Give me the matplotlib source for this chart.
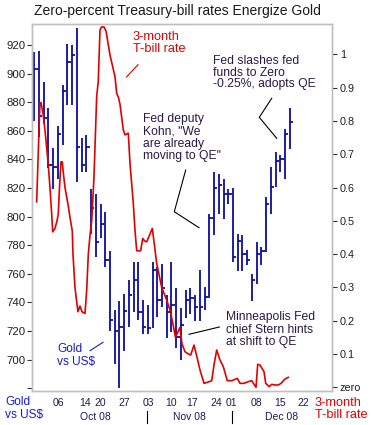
import matplotlib
matplotlib.use('Agg')
import matplotlib.pyplot as plt
import matplotlib.transforms as mtransforms
from matplotlib.lines import Line2D

plt.rcParams['font.family'] = ['Liberation Sans', 'DejaVu Sans']

# Gold vs US$ : daily high / low / close (one bar per trading day, from Sep 29 2008)
gold_high = [915, 916, 894, 876, 848, 863, 892, 921, 920, 932,
             855, 857, 819, 816, 809, 803, 776, 735, 741, 746,
             756, 768, 768, 742, 738, 768, 765, 767, 745, 768,
             750, 736, 749, 750, 745, 763, 751, 802, 831, 830,
             826, 819, 820, 788, 787, 777, 760, 782, 779, 814,
             835, 845, 843, 861, 876]
gold_low = [867, 856, 865, 834, 819, 826, 850, 878, 878, 824,
            831, 831, 788, 772, 785, 765, 720, 697, 680, 706,
            723, 733, 728, 718, 718, 722, 730, 737, 715, 719,
            708, 700, 729, 732, 727, 727, 735, 743, 787, 802,
            798, 809, 768, 762, 762, 766, 741, 753, 766, 775,
            802, 821, 831, 826, 847]
gold_close = [903, 870, 869, 836, 835, 858, 888, 908, 913, 849,
              836, 849, 806, 782, 795, 770, 728, 720, 723, 734,
              745, 756, 733, 723, 722, 763, 742, 750, 733, 738,
              716, 724, 742, 743, 737, 737, 744, 799, 820, 822,
              816, 816, 772, 783, 774, 770, 756, 774, 776, 809,
              821, 839, 840, 858, 866]

# 3-month T-bill rate (%), position in trading-day units
tbill_day = [0.5, 0.72, 1.06, 1.21, 1.42, 1.84, 2.26, 2.9, 3.32, 3.68,
             3.89, 4.38, 4.8, 5.07, 5.33, 5.64, 5.92, 6.07, 6.49, 7.12,
             7.55, 8.03, 8.18, 8.6, 8.96, 9.24, 9.66, 10.08, 10.72, 11.08,
             11.42, 11.78, 12.14, 12.62, 13.19, 13.53, 13.89, 14.21, 14.74, 15.16,
             16.0, 17.06, 17.42, 17.8, 18.12, 18.82, 19.18, 19.87, 20.23, 20.93,
             21.29, 21.65, 22.49, 22.92, 23.3, 23.76, 24.95, 25.88, 26.93, 27.99,
             28.69, 29.32, 29.85, 30.8, 31.23, 31.86, 32.56, 33.07, 33.76, 34.46,
             35.03, 35.88, 36.58, 37.51, 38.05, 38.56, 39.26, 39.96, 40.8, 41.73,
             42.43, 42.92, 43.49, 44.33, 45.24, 45.96, 46.87, 47.23, 47.72, 48.56,
             48.92, 49.68, 50.19, 50.89, 51.59, 52.16, 53.01, 53.7]
tbill_rate = [0.557, 0.652, 0.80, 0.853, 0.855, 0.823, 0.773, 0.677, 0.60, 0.52,
              0.467, 0.477, 0.50, 0.52, 0.60, 0.677, 0.677, 0.653, 0.60, 0.55,
              0.51, 0.47, 0.40, 0.30, 0.257, 0.227, 0.244, 0.227, 0.222, 0.292,
              0.40, 0.457, 0.50, 0.632, 0.873, 0.92, 1.073, 1.082, 1.082, 1.07,
              0.998, 0.933, 0.883, 0.87, 0.85, 0.773, 0.758, 0.763, 0.673, 0.553,
              0.472, 0.41, 0.41, 0.447, 0.44, 0.437, 0.477, 0.372, 0.30, 0.262,
              0.232, 0.19, 0.15, 0.18, 0.13, 0.107, 0.10, 0.097, 0.127, 0.087,
              0.052, 0.012, 0.015, 0.02, 0.072, 0.112, 0.082, 0.062, 0.02, 0.02,
              0.024, 0.027, 0.012, 0.012, 0.017, 0.02, 0.0, 0.069, 0.067, 0.047,
              0.012, 0.002, 0.009, 0.007, 0.007, 0.012, 0.025, 0.03]

day_ticks = [5.0, 10.7, 13.9, 19.0, 24.1, 29.0, 33.3, 38.4, 41.7, 47.0, 51.9, 56.9]
day_labels = ['06', '14', '20', '27', '03', '10', '17', '24', '01', '08', '15', '22']
month_pos = [12.85, 32.7, 52.3]
month_labels = ['Oct 08', 'Nov 08', 'Dec 08']
month_breaks = [23.9, 41.9]

gold_ticks = [680, 700, 720, 740, 760, 780, 800, 820, 840, 860, 880, 900, 920]
rate_ticks = [0, 0.1, 0.2, 0.3, 0.4, 0.5, 0.6, 0.7, 0.8, 0.9, 1.0]
rate_labels = ['zero', '0.1', '0.2', '0.3', '0.4', '0.5', '0.6', '0.7', '0.8', '0.9', '1']

BLUE = '#0c0c9e'
RED = '#e00000'
NAVY_TXT = '#1c1c58'
NOTE = '#2a1a45'
FRAME = '#c0c0c0'

W, H = 373, 425
fig = plt.figure(figsize=(W / 100, H / 100), dpi=100)
fig.patch.set_facecolor('white')


def fx(x):
    return x / W


def fy(y):
    return 1 - y / H


ax = fig.add_axes([fx(32.3), fy(391), (332.3 - 32.3) / W, (391 - 23.5) / H])
days = list(range(len(gold_close)))
ax.vlines(days, gold_low, gold_high, color=BLUE, lw=1.3)
ax.hlines(gold_close, days, [d + 0.7 for d in days], color=BLUE, lw=1.3)
ax.set_xlim(-0.42, 63.0)
ax.set_ylim(678.1, 935.0)
ax.set_yticks(gold_ticks)
ax.set_yticklabels([''] + [str(v) for v in gold_ticks[1:]])
ax.set_xticks(day_ticks)
ax.set_xticklabels(day_labels)
ax.tick_params(axis='y', direction='out', length=3.5, width=0.8, color='#333333',
               labelsize=8.2, pad=1, labelcolor='#202020')
ax.tick_params(axis='x', length=0, pad=5, labelsize=7.5, labelcolor=NAVY_TXT)

ax2 = ax.twinx()
ax2.plot(tbill_day, tbill_rate, color=RED, lw=1.2)
ax2.set_ylim(-0.011, 1.0925)
ax2.set_yticks(rate_ticks)
ax2.set_yticklabels(rate_labels)
ax2.tick_params(axis='y', direction='out', length=3.5, width=0.8, color='#333333',
                labelsize=7.8, pad=2, labelcolor='#202020')
for a in (ax, ax2):
    for s in a.spines.values():
        s.set_color(FRAME)
        s.set_linewidth(1.0)

# month labels and separators under the day ticks
tr = mtransforms.blended_transform_factory(ax.transData, fig.transFigure)
for p, lab in zip(month_pos, month_labels):
    fig.text(p, fy(416.5), lab, transform=tr, ha='center', va='center',
             fontsize=7.5, color=NAVY_TXT)
for b in month_breaks:
    fig.add_artist(Line2D([b, b], [fy(411), fy(423)], transform=tr, color='black', lw=0.8))

# title
fig.text(fx(34), fy(15), 'Zero-percent Treasury-bill rates Energize Gold',
         ha='left', va='baseline', fontsize=10, color='#1a1a1a')

# axis captions at the bottom
fig.text(fx(5), fy(408.5), 'Gold\nvs US$', ha='left', va='center', fontsize=8.6,
         color='#1a1ad0', linespacing=1.05)
fig.text(fx(315), fy(409.5), '3-month\nT-bill rate', ha='left', va='center',
         fontsize=9.2, color=RED, linespacing=1.0)

# labels inside the chart
fig.text(fx(57.3), fy(355.5), 'Gold\nvs US$', ha='left', va='center', fontsize=8.6,
         color='#1a1ad0', linespacing=1.05)
fig.add_artist(Line2D([fx(90), fx(103)], [fy(350.7), fy(342.3)], color='#1a1ad0', lw=0.8))

fig.text(fx(132.7), fy(43.5), '3-month\nT-bill rate', ha='left', va='center',
         fontsize=9.2, color=RED, linespacing=1.0)
fig.add_artist(Line2D([fx(126.5), fx(138)], [fy(77), fy(64.7)], color=RED, lw=0.8))

fig.text(fx(212.7), fy(72.5), 'Fed slashes fed\nfunds to Zero\n-0.25%, adopts QE',
         ha='left', va='center', fontsize=8.7, color=NOTE, linespacing=1.0)
fig.add_artist(Line2D([fx(271.7), fx(259.3), fx(276.7)], [fy(98.3), fy(117.3), fy(138.3)],
                      color='black', lw=0.8))

fig.text(fx(143.3), fy(137.8), 'Fed deputy\nKohn, "We\nare already\nmoving to QE"',
         ha='left', va='center', fontsize=8.7, color=NOTE, linespacing=1.05)
fig.add_artist(Line2D([fx(185.7), fx(174.3), fx(199)], [fy(170), fy(211.7), fy(227.7)],
                      color='black', lw=0.8))

fig.text(fx(226), fy(329.7), 'Minneapolis Fed\nchief Stern hints\nat shift to QE',
         ha='left', va='center', fontsize=8.7, color=NOTE, linespacing=1.05)
fig.add_artist(Line2D([fx(189), fx(219.3)], [fy(334.3), fy(327)], color='black', lw=0.8))

fig.savefig('out.png', dpi=100)
